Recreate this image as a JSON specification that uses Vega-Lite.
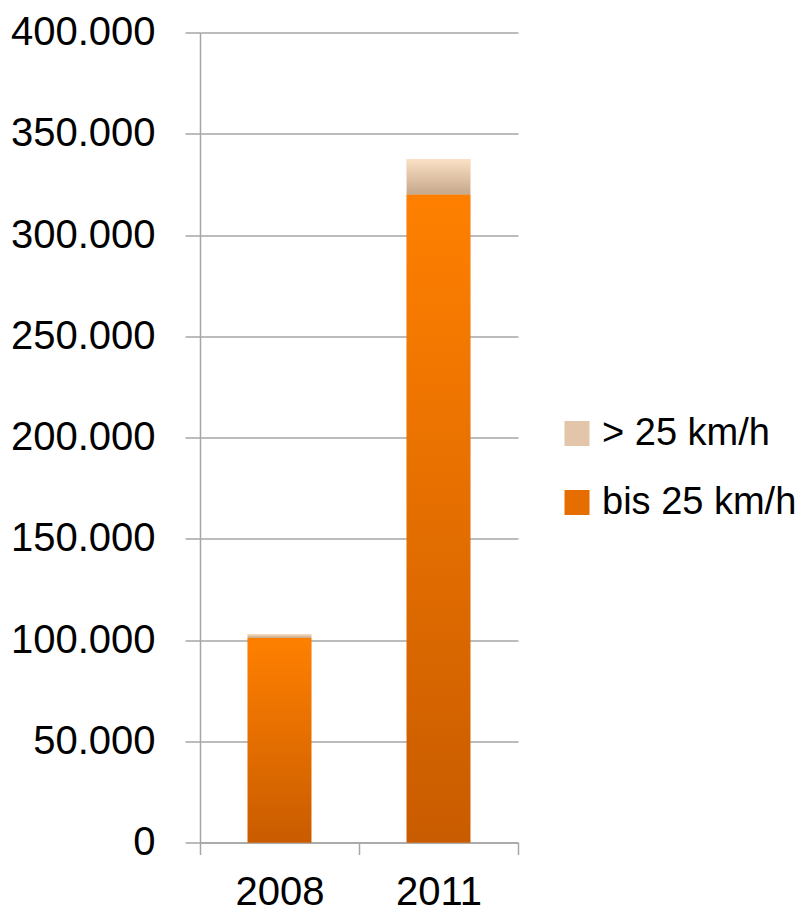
{
  "$schema": "https://vega.github.io/schema/vega-lite/v6.json",
  "width": 318,
  "height": 810,
  "autosize": {"type": "none"},
  "padding": {"left": 200, "top": 32.5, "right": 289, "bottom": 75.5},
  "background": "white",
  "data": {
    "values": [
      {"year": "2008", "series": "bis 25 km/h", "value": 101000},
      {"year": "2008", "series": "> 25 km/h", "value": 2000},
      {"year": "2011", "series": "bis 25 km/h", "value": 320000},
      {"year": "2011", "series": "> 25 km/h", "value": 17500}
    ]
  },
  "encoding": {
    "x": {
      "field": "year",
      "type": "nominal",
      "scale": {"paddingInner": 0, "paddingOuter": 0},
      "axis": {
        "title": null,
        "labelAngle": 0,
        "tickBand": "extent",
        "tickSize": 12,
        "tickColor": "#a6a6a6",
        "tickWidth": 1.5,
        "domainColor": "#a6a6a6",
        "domainWidth": 1.5,
        "labelFont": "Liberation Sans",
        "labelFontSize": 40,
        "labelColor": "black",
        "labelPadding": 18
      }
    },
    "y": {
      "field": "value",
      "type": "quantitative",
      "stack": "zero",
      "scale": {"domain": [0, 400000], "nice": false},
      "axis": {
        "title": null,
        "values": [0, 50000, 100000, 150000, 200000, 250000, 300000, 350000, 400000],
        "labelExpr": "replace(format(datum.value, ','), ',', '.')",
        "grid": true,
        "gridColor": "#a6a6a6",
        "gridWidth": 1.5,
        "tickSize": 15,
        "tickColor": "#a6a6a6",
        "tickWidth": 1.5,
        "domainColor": "#a6a6a6",
        "domainWidth": 1.5,
        "labelFont": "Liberation Sans",
        "labelFontSize": 40,
        "labelColor": "black",
        "labelPadding": 30
      }
    },
    "order": {"field": "series", "sort": "descending"}
  },
  "layer": [
    {
      "mark": {"type": "bar", "width": {"band": 0.4}},
      "encoding": {
        "color": {
          "field": "series",
          "type": "nominal",
          "scale": {
            "domain": ["> 25 km/h", "bis 25 km/h"],
            "range": ["#e3c5a9", "#e66d00"]
          },
          "legend": {
            "title": null,
            "orient": "none",
            "legendX": 358,
            "legendY": 382,
            "symbolType": "square",
            "symbolSize": 625,
            "symbolStrokeWidth": 0,
            "labelFont": "Liberation Sans",
            "labelFontSize": 38,
            "labelColor": "black",
            "labelOffset": 6,
            "rowPadding": 31,
            "labelLimit": 400
          }
        }
      }
    },
    {
      "mark": {"type": "bar", "width": {"band": 0.4}},
      "encoding": {
        "detail": {"field": "series"},
        "fill": {
          "condition": {
            "test": "datum.series === '> 25 km/h'",
            "value": {"gradient": "linear", "x1": 0, "y1": 0, "x2": 0, "y2": 1, "stops": [{"offset": 0, "color": "#fbe1c5"}, {"offset": 1, "color": "#c6a78c"}]}
          },
          "value": {"gradient": "linear", "x1": 0, "y1": 0, "x2": 0, "y2": 1, "stops": [{"offset": 0, "color": "#ff8000"}, {"offset": 1, "color": "#c95c00"}]}
        }
      }
    }
  ],
  "config": {
    "view": {"stroke": null}
  }
}
